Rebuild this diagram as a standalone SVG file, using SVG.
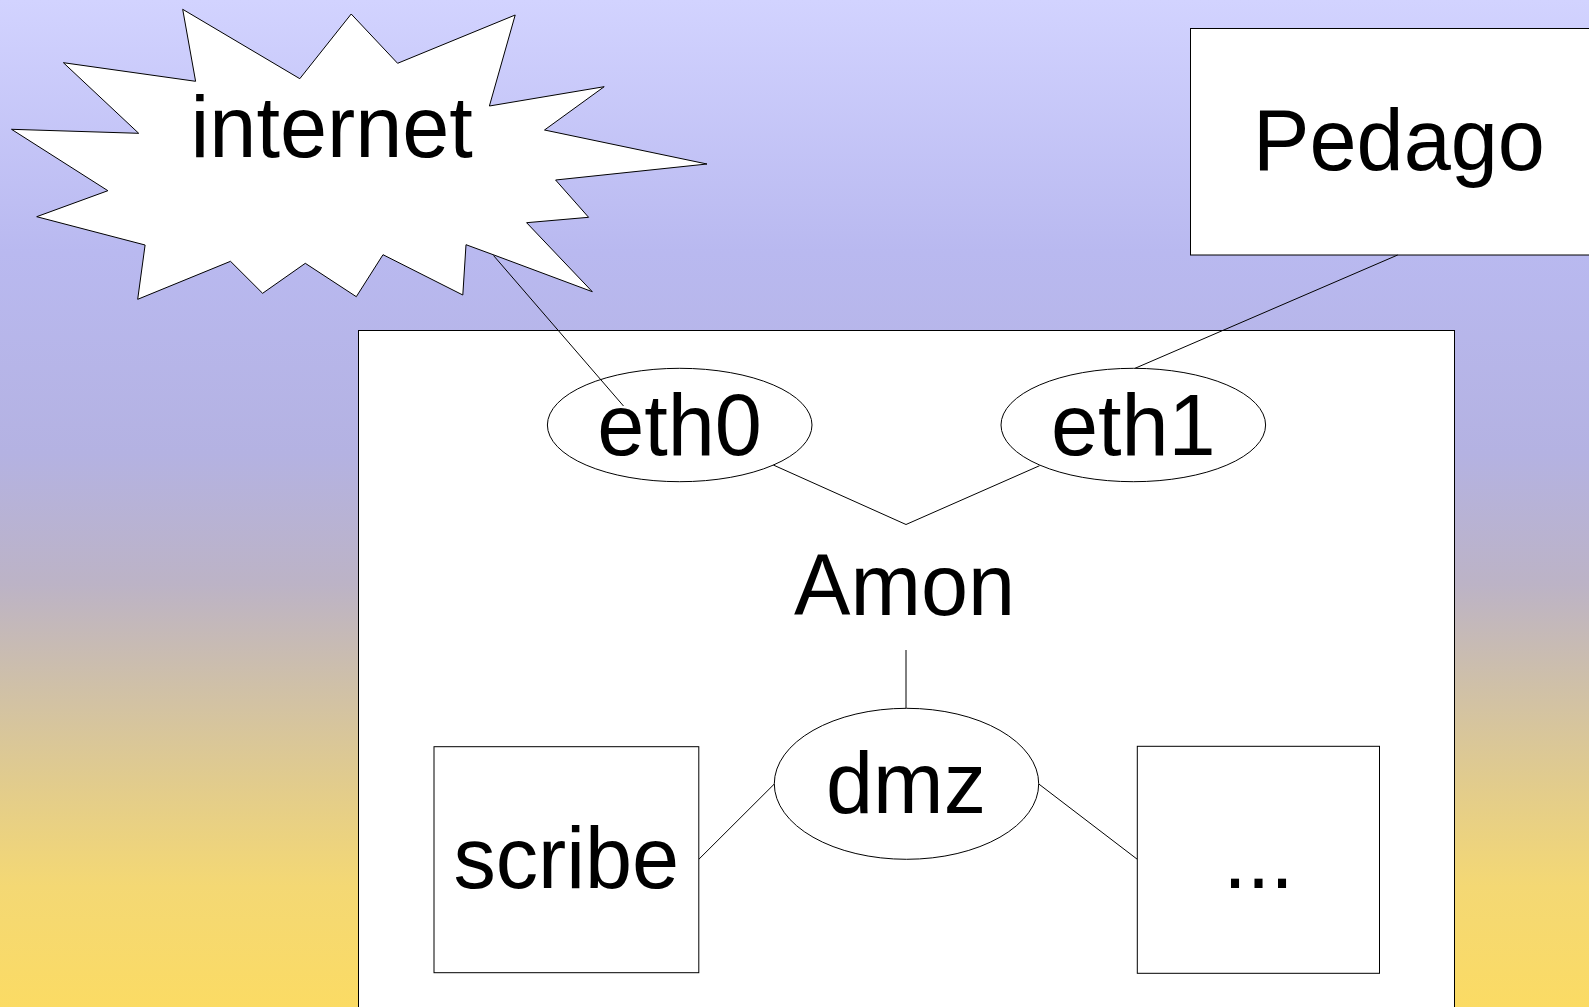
<svg xmlns="http://www.w3.org/2000/svg" width="1589" height="1007" viewBox="0 0 1589 1007">
<defs>
<linearGradient id="bg" x1="0" y1="0" x2="0" y2="1">
<stop offset="0" stop-color="#d2d3ff"/>
<stop offset="0.25" stop-color="#b9b9f0"/>
<stop offset="0.45" stop-color="#b4b2e2"/>
<stop offset="0.58" stop-color="#bcb3c6"/>
<stop offset="0.68" stop-color="#cfc0a8"/>
<stop offset="0.78" stop-color="#e2cc8c"/>
<stop offset="0.88" stop-color="#f4d874"/>
<stop offset="1" stop-color="#fbdb64"/>
</linearGradient>
<style>
.shape{fill:#ffffff;stroke:#000000;stroke-width:1}
.lbl{font-family:"Liberation Sans",Arial,sans-serif;font-size:87px;fill:#000000;text-anchor:middle}
.conn line,.conn polyline{stroke:#000000;stroke-width:1;fill:none}
</style>
</defs>
<rect x="0" y="0" width="1589" height="1007" fill="url(#bg)"/>
<g id="amon">
<rect class="shape" x="358.5" y="330.5" width="1096" height="690"/>
<text class="lbl" transform="translate(904.5,615) scale(0.973,1)">Amon</text>
</g>
<g id="internet">
<polygon class="shape" points="182.7,9.3 299.8,78.7 351.2,14 397.6,63.3 515.2,15 489.4,106 604.2,86.7 544.5,130 707,164 555.6,180 588.6,217.3 526.6,222.7 592.3,291.7 494,255 466,244.7 462.8,295 383,254.7 356.3,296.7 305.3,263.3 262.6,293.3 230.5,261.3 137.7,299.3 145.1,245 36.7,216.7 107.9,190.7 11.5,129.3 138.7,133.3 63.4,62.7 195.6,81.3"/>
<text class="lbl" transform="translate(331.7,156.7) scale(0.973,1)">internet</text>
</g>
<g id="pedago">
<rect class="shape" x="1190.5" y="28.5" width="420" height="226.5"/>
<text class="lbl" transform="translate(1399,170) scale(0.973,1)">Pedago</text>
</g>
<g id="connectors" class="conn">
<line x1="493.5" y1="255.5" x2="623.5" y2="406"/>
<line x1="1397.7" y1="255" x2="1135" y2="368.3"/>
<polyline points="773.3,465 906,524.5 1039.6,465.7"/>
<line x1="906" y1="650" x2="906" y2="708.3"/>
<line x1="698.8" y1="859.3" x2="774.3" y2="784"/>
<line x1="1038.8" y1="784" x2="1137.3" y2="859.3"/>
</g>
<g id="eth0">
<ellipse class="shape" cx="679.7" cy="425" rx="132.3" ry="56.7" fill-opacity="0"/>
<text class="lbl" transform="translate(679.5,455) scale(0.973,1)">eth0</text>
</g>
<g id="eth1">
<ellipse class="shape" cx="1133.3" cy="425" rx="132.3" ry="56.7"/>
<text class="lbl" transform="translate(1133.3,455) scale(0.973,1)">eth1</text>
</g>
<g id="dmz">
<ellipse class="shape" cx="906.5" cy="783.8" rx="132.2" ry="75.5"/>
<text class="lbl" transform="translate(906,812.7) scale(0.973,1)">dmz</text>
</g>
<g id="scribe">
<rect class="shape" x="434" y="746.7" width="264.8" height="226"/>
<text class="lbl" transform="translate(566.3,888.3) scale(0.973,1)">scribe</text>
</g>
<g id="more">
<rect class="shape" x="1137.3" y="746.3" width="242.2" height="227"/>
<text class="lbl" transform="translate(1258.4,887.7) scale(0.973,1)">...</text>
</g>
</svg>
